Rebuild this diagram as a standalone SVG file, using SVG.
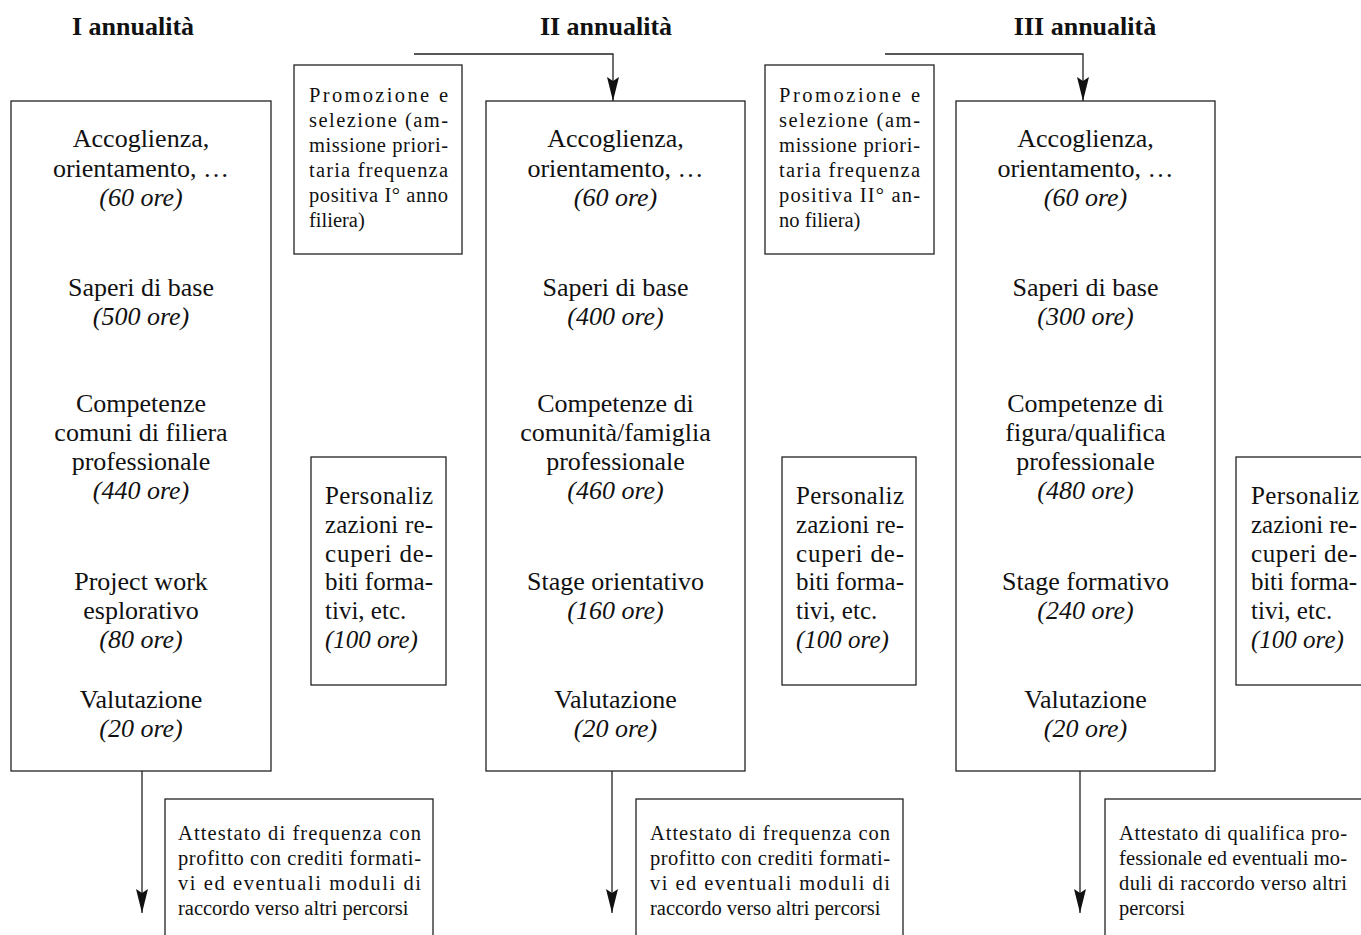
<svg xmlns="http://www.w3.org/2000/svg" width="1361" height="935" viewBox="0 0 1361 935">
<style>
text{font-family:"Liberation Serif","Times New Roman",serif;fill:#111}
.h{font-size:26px;font-weight:bold;text-anchor:middle}
.m{font-size:26px;text-anchor:middle}
.i{font-style:italic}
.p{font-size:20.5px}
.q{font-size:25px}
.b{font-size:20.5px}
.box{fill:#fff;stroke:#222;stroke-width:1.3}
.ln{fill:none;stroke:#222;stroke-width:1.3}
</style>
<defs>
<marker id="ah" markerUnits="userSpaceOnUse" markerWidth="26" markerHeight="14" viewBox="-25 -7 26 14" refX="0" refY="0" orient="auto">
<path d="M0,0 L-24,-6 L-20,0 L-24,6 Z" fill="#111"/>
</marker>
</defs>
<rect width="1361" height="935" fill="#fff"/>

<g id="headers">
<text class="h" x="133" y="35">I annualità</text>
<text class="h" x="606" y="35">II annualità</text>
<text class="h" x="1085" y="35">III annualità</text>
</g>

<g id="connectors">
<path class="ln" d="M414,54 H613 V101" marker-end="url(#ah)"/>
<path class="ln" d="M885,54 H1083 V101" marker-end="url(#ah)"/>
<path class="ln" d="M142,771 V913" marker-end="url(#ah)"/>
<path class="ln" d="M612,771 V913" marker-end="url(#ah)"/>
<path class="ln" d="M1080,771 V913" marker-end="url(#ah)"/>
</g>

<g id="year1">
<rect class="box" x="11" y="101" width="260" height="670"/>
<text class="m" x="141" y="147">Accoglienza,</text>
<text class="m" x="141" y="177">orientamento, …</text>
<text class="m i" x="141" y="206">(60 ore)</text>
<text class="m" x="141" y="296">Saperi di base</text>
<text class="m i" x="141" y="325">(500 ore)</text>
<text class="m" x="141" y="412">Competenze</text>
<text class="m" x="141" y="441">comuni di filiera</text>
<text class="m" x="141" y="470">professionale</text>
<text class="m i" x="141" y="499">(440 ore)</text>
<text class="m" x="141" y="590">Project work</text>
<text class="m" x="141" y="619">esplorativo</text>
<text class="m i" x="141" y="648">(80 ore)</text>
<text class="m" x="141" y="708">Valutazione</text>
<text class="m i" x="141" y="737">(20 ore)</text>
</g>

<g id="promo1">
<rect class="box" x="294" y="65" width="168" height="189"/>
<text class="p" x="309" y="102" textLength="139" lengthAdjust="spacing">Promozione e</text>
<text class="p" x="309" y="127" textLength="139" lengthAdjust="spacing">selezione (am-</text>
<text class="p" x="309" y="152" textLength="139" lengthAdjust="spacing">missione priori-</text>
<text class="p" x="309" y="177" textLength="139" lengthAdjust="spacing">taria frequenza</text>
<text class="p" x="309" y="202" textLength="139" lengthAdjust="spacing">positiva I° anno</text>
<text class="p" x="309" y="227">filiera)</text>
</g>

<g id="pers1">
<rect class="box" x="311" y="457" width="135" height="228"/>
<text class="q" x="325" y="504" textLength="108" lengthAdjust="spacing">Personaliz</text>
<text class="q" x="325" y="533" textLength="108" lengthAdjust="spacing">zazioni re-</text>
<text class="q" x="325" y="562" textLength="108" lengthAdjust="spacing">cuperi de-</text>
<text class="q" x="325" y="590" textLength="108" lengthAdjust="spacing">biti forma-</text>
<text class="q" x="325" y="619">tivi, etc.</text>
<text class="q i" x="325" y="648">(100 ore)</text>
</g>

<g id="out1">
<rect class="box" x="165" y="799" width="268" height="150"/>
<text class="b" x="178" y="840" textLength="243" lengthAdjust="spacing">Attestato di frequenza con</text>
<text class="b" x="178" y="865" textLength="243" lengthAdjust="spacing">profitto con crediti formati-</text>
<text class="b" x="178" y="890" textLength="243" lengthAdjust="spacing">vi ed eventuali moduli di</text>
<text class="b" x="178" y="915">raccordo verso altri percorsi</text>
</g>

<g id="year2">
<rect class="box" x="486" y="101" width="259" height="670"/>
<text class="m" x="615.5" y="147">Accoglienza,</text>
<text class="m" x="615.5" y="177">orientamento, …</text>
<text class="m i" x="615.5" y="206">(60 ore)</text>
<text class="m" x="615.5" y="296">Saperi di base</text>
<text class="m i" x="615.5" y="325">(400 ore)</text>
<text class="m" x="615.5" y="412">Competenze di</text>
<text class="m" x="615.5" y="441">comunità/famiglia</text>
<text class="m" x="615.5" y="470">professionale</text>
<text class="m i" x="615.5" y="499">(460 ore)</text>
<text class="m" x="615.5" y="590">Stage orientativo</text>
<text class="m i" x="615.5" y="619">(160 ore)</text>
<text class="m" x="615.5" y="708">Valutazione</text>
<text class="m i" x="615.5" y="737">(20 ore)</text>
</g>

<g id="promo2">
<rect class="box" x="765" y="65" width="169" height="189"/>
<text class="p" x="779" y="102" textLength="141" lengthAdjust="spacing">Promozione e</text>
<text class="p" x="779" y="127" textLength="141" lengthAdjust="spacing">selezione (am-</text>
<text class="p" x="779" y="152" textLength="141" lengthAdjust="spacing">missione priori-</text>
<text class="p" x="779" y="177" textLength="141" lengthAdjust="spacing">taria frequenza</text>
<text class="p" x="779" y="202" textLength="141" lengthAdjust="spacing">positiva II° an-</text>
<text class="p" x="779" y="227">no filiera)</text>
</g>

<g id="pers2">
<rect class="box" x="782" y="457" width="134" height="228"/>
<text class="q" x="796" y="504" textLength="108" lengthAdjust="spacing">Personaliz</text>
<text class="q" x="796" y="533" textLength="108" lengthAdjust="spacing">zazioni re-</text>
<text class="q" x="796" y="562" textLength="108" lengthAdjust="spacing">cuperi de-</text>
<text class="q" x="796" y="590" textLength="108" lengthAdjust="spacing">biti forma-</text>
<text class="q" x="796" y="619">tivi, etc.</text>
<text class="q i" x="796" y="648">(100 ore)</text>
</g>

<g id="out2">
<rect class="box" x="636" y="799" width="267" height="150"/>
<text class="b" x="650" y="840" textLength="240" lengthAdjust="spacing">Attestato di frequenza con</text>
<text class="b" x="650" y="865" textLength="240" lengthAdjust="spacing">profitto con crediti formati-</text>
<text class="b" x="650" y="890" textLength="240" lengthAdjust="spacing">vi ed eventuali moduli di</text>
<text class="b" x="650" y="915">raccordo verso altri percorsi</text>
</g>

<g id="year3">
<rect class="box" x="956" y="101" width="259" height="670"/>
<text class="m" x="1085.5" y="147">Accoglienza,</text>
<text class="m" x="1085.5" y="177">orientamento, …</text>
<text class="m i" x="1085.5" y="206">(60 ore)</text>
<text class="m" x="1085.5" y="296">Saperi di base</text>
<text class="m i" x="1085.5" y="325">(300 ore)</text>
<text class="m" x="1085.5" y="412">Competenze di</text>
<text class="m" x="1085.5" y="441">figura/qualifica</text>
<text class="m" x="1085.5" y="470">professionale</text>
<text class="m i" x="1085.5" y="499">(480 ore)</text>
<text class="m" x="1085.5" y="590">Stage formativo</text>
<text class="m i" x="1085.5" y="619">(240 ore)</text>
<text class="m" x="1085.5" y="708">Valutazione</text>
<text class="m i" x="1085.5" y="737">(20 ore)</text>
</g>

<g id="pers3">
<rect class="box" x="1236" y="457" width="160" height="228"/>
<text class="q" x="1251" y="504" textLength="108" lengthAdjust="spacing">Personaliz</text>
<text class="q" x="1251" y="533" textLength="106" lengthAdjust="spacing">zazioni re-</text>
<text class="q" x="1251" y="562" textLength="106" lengthAdjust="spacing">cuperi de-</text>
<text class="q" x="1251" y="590" textLength="106" lengthAdjust="spacing">biti forma-</text>
<text class="q" x="1251" y="619">tivi, etc.</text>
<text class="q i" x="1251" y="648">(100 ore)</text>
</g>

<g id="out3">
<rect class="box" x="1105" y="799" width="300" height="150"/>
<text class="b" x="1119" y="840" textLength="228" lengthAdjust="spacing">Attestato di qualifica pro-</text>
<text class="b" x="1119" y="865" textLength="228" lengthAdjust="spacing">fessionale ed eventuali mo-</text>
<text class="b" x="1119" y="890" textLength="228" lengthAdjust="spacing">duli di raccordo verso altri</text>
<text class="b" x="1119" y="915">percorsi</text>
</g>
</svg>
